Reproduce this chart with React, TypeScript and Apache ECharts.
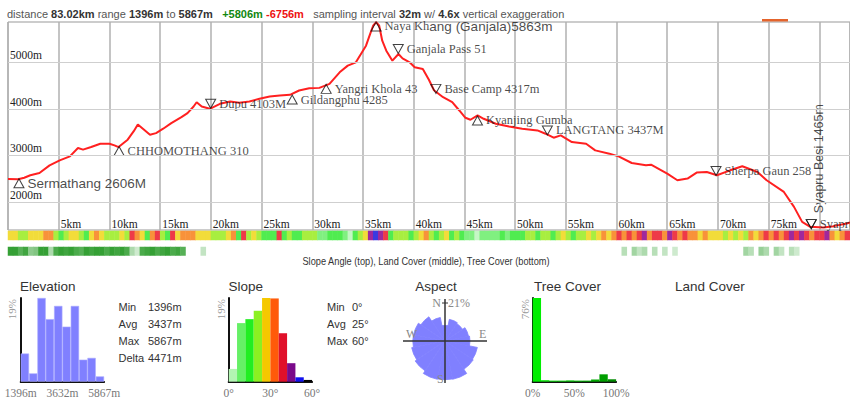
import React, { useEffect, useRef } from 'react';
import * as echarts from 'echarts';

// ---------- profile data ----------
const distanceKm = [0, 1.0, 1.6, 2.2, 3.1, 4.1, 5.1, 6.1, 6.9, 7.4, 8.2, 9.1, 10.0, 10.5, 10.9, 11.8, 12.4, 12.8, 13.3, 14.0, 14.6, 15.3, 16.1, 17.1, 17.7, 18.3, 18.6, 19.1, 19.9, 20.9, 21.9, 22.8, 23.8, 24.8, 25.8, 26.8, 27.8, 28.7, 29.7, 30.7, 31.7, 32.7, 33.5, 34.3, 34.8, 35.3, 35.7, 36.0, 36.3, 36.6, 36.9, 37.3, 37.9, 38.5, 38.9, 39.6, 40.1, 40.9, 41.5, 42.0, 42.9, 43.8, 44.5, 45.1, 45.6, 46.3, 46.9, 48.1, 49.4, 50.7, 52.2, 53.0, 53.8, 54.5, 55.6, 57.0, 57.9, 59.3, 60.2, 61.5, 62.9, 63.4, 65.0, 66.0, 67.0, 67.9, 68.9, 69.9, 71.2, 72.4, 73.9, 74.8, 76.5, 77.5, 78.3, 79.1, 80.4, 81.4, 82.7, 83.02];
const elevationM = [2490, 2487, 2520, 2572, 2621, 2786, 2893, 2979, 3157, 3123, 3179, 3251, 3251, 3215, 3179, 3337, 3520, 3665, 3573, 3444, 3478, 3573, 3693, 3821, 3907, 4050, 4143, 4051, 4001, 4108, 4158, 4130, 4158, 4216, 4265, 4286, 4301, 4394, 4443, 4451, 4537, 4786, 4929, 5000, 5180, 5358, 5608, 5786, 5863, 5786, 5465, 5251, 5036, 5180, 5086, 5000, 4893, 4858, 4625, 4400, 4250, 4143, 3965, 3808, 3766, 3858, 3787, 3680, 3622, 3573, 3536, 3466, 3380, 3429, 3286, 3251, 3108, 3037, 2979, 2836, 2786, 2801, 2608, 2465, 2501, 2630, 2643, 2572, 2679, 2765, 2643, 2465, 2214, 1893, 1571, 1464, 1451, 1479, 1537, 1560];
const elevMin = 1396;
const elevMax = 5867;
const distMax = 83.02;
const yGridValues = [2000, 3000, 4000, 5000];

// ---------- waypoints ----------
const waypointNames = ['Sermathang 2606M', 'CHHOMOTHANG 310', 'Dupu 4103M', 'Gildangphu 4285', 'Yangri Khola 43', 'Naya Khang (Ganjala)5863m', 'Ganjala Pass 51', 'Base Camp 4317m', 'Kyanjing Gumba', 'LANGTANG 3437M', 'Sherpa Gaun 258', 'Syapru Besi 1465m', 'Syapru Besi'];
const waypointKm = [1.08, 10.95, 19.98, 28.02, 31.37, 36.29, 38.48, 42.19, 46.29, 53.18, 69.81, 79.2, 79.2];
const waypointElev = [2400, 3093, 4108, 4201, 4430, 5771, 5287, 4430, 3751, 3536, 2664, 1522, 1522];
const waypointDir = ['up', 'up', 'down', 'up', 'up', 'up', 'down', 'down', 'up', 'down', 'down', 'down', 'down'];
const waypointFont = ['sans', 'serif', 'serif', 'serif', 'serif', 'mixed', 'serif', 'serif', 'serif', 'serif', 'serif', 'vertical', 'serif'];

// ---------- strips (0.5 km bins) ----------
const slopeStrip = [
  26, 28, 22, 18, 24, 26, 28, 32, 34, 20, 16, 18, 26, 27, 18, 16, 24, 30, 28, 22,
  18, 22, 26, 20, 38, 32, 26, 16, 34, 36, 20, 14, 38, 24, 30, 32, 32, 28, 26, 24,
  20, 22, 18, 24, 30, 16, 36, 20, 24, 18, 16, 14, 16, 38, 14, 18, 14, 16, 18, 20,
  18, 10, 6, 12, 14, 16, 8, 4, 14, 20, 24, 44, 52, 46, 40, 16, 20, 18, 22, 16,
  18, 26, 30, 20, 16, 20, 24, 14, 18, 12, 8, 6, 4, 8, 10, 6, 10, 14, 8, 12,
  16, 14, 18, 20, 14, 18, 22, 16, 20, 24, 18, 16, 22, 20, 26, 18, 24, 30, 28, 34,
  36, 32, 40, 34, 38, 44, 32, 36, 40, 34, 46, 38, 32, 36, 30, 34, 28, 32, 26, 24,
  26, 22, 28, 20, 24, 18, 30, 26, 32, 36, 30, 40, 34, 38, 42, 36, 44, 38, 32, 40,
  36, 42, 30, 26, 34, 38
];
const treeStripBin = [0, 1, 2, 3, 4, 5, 6, 7, 8, 9, 10, 11, 12, 13, 14, 15, 16, 17, 18, 19, 20, 21, 22, 23, 24, 25, 26, 27, 28, 29, 30, 31, 32, 33, 34, 38, 121, 123, 124, 125, 127, 129, 131, 145, 146, 148, 149, 151, 152, 154, 155];
const treeStripValue = [80, 80, 65, 75, 40, 45, 80, 80, 25, 70, 80, 75, 80, 70, 65, 80, 75, 80, 80, 70, 80, 75, 80, 70, 25, 10, 70, 75, 80, 70, 75, 80, 70, 75, 65, 15, 20, 30, 15, 25, 20, 15, 10, 30, 20, 35, 25, 30, 15, 20, 10];
const stripBins = 166;

// ---------- histograms ----------
const elevHistPct = [6.4, 1.9, 19, 14.2, 17.2, 12.5, 17.2, 5, 5.4, 1.2];
const elevHistLabels = ['1396m', '3632m', '5867m'];
const slopeHistPct = [2.9, 13.3, 14.2, 16.1, 19.1, 18.9, 11, 4.2, 1, 0.4];
const slopeColors = ['#b3f5b3', '#66f066', '#22ee22', '#8cf022', '#f5c800', '#ff5a0a', '#e0102a', '#7a0a8a', '#1010ee', '#000000'];
const stripColors = ['#c4f7c4', '#80f080', '#50ec50', '#a8ee40', '#f2dc3a', '#f8923a', '#ee3a48', '#a0289c', '#3a3ae0', '#222222'];
const slopeBinDeg = 6;
const slopeHistLabels = ['0°', '30°', '60°'];
const aspectDirs = ['N', 'NNE', 'NE', 'ENE', 'E', 'ESE', 'SE', 'SSE', 'S', 'SSW', 'SW', 'WSW', 'W', 'WNW', 'NW', 'NNW'];
const aspectPct = [8.0, 11.3, 10.8, 12.3, 12.8, 16.9, 17.4, 20.0, 19.8, 20.0, 18.4, 17.4, 16.5, 16.4, 14.9, 12.3];
const aspectMax = 21;
const treeHistPct = [76, 1.4, 1, 1, 1.2, 1, 1, 2, 6.7, 2.2];
const treeColors = ['#00ee00', '#10e410', '#10da10', '#10d010', '#08c608', '#08bc08', '#04b204', '#00a800', '#009e00', '#008a00'];
const treeHistLabels = ['0%', '50%', '100%'];
const elevStats = [['Min', '1396m'], ['Avg', '3437m'], ['Max', '5867m'], ['Delta', '4471m']];
const slopeStats = [['Min', '0°'], ['Avg', '25°'], ['Max', '60°']];

const SERIF = '"Liberation Serif", "Times New Roman", Times, serif';
const SANS = '"Liberation Sans", Arial, Helvetica, sans-serif';

function txt(x: number, y: number, text: string, extra: any = {}, el: any = {}) {
  return {
    type: 'text', x, y, silent: true, z: 20, ...el,
    style: {
      text, fill: '#333', font: `12px ${SANS}`,
      align: 'left', verticalAlign: 'middle', textAlign: 'left', textVerticalAlign: 'middle',
      ...extra,
    },
  };
}

function histGrid(left: number) {
  return { left, top: 298, width: 83.4, height: 83.7 };
}

export default function App() {
  const ref = useRef<HTMLDivElement>(null);
  useEffect(() => {
    if (!ref.current) return;
    const chart = echarts.init(ref.current, undefined, { renderer: 'svg' });

    const catIdx = (n: number) => Array.from({ length: n }, (_, i) => String(i));

    const histCatX = (gridIndex: number) => ({
      type: 'category', gridIndex, position: 'bottom', data: catIdx(10), boundaryGap: true,
      axisLine: { show: true, lineStyle: { color: '#111', width: 2 } },
      axisTick: { show: false }, axisLabel: { show: false }, splitLine: { show: false },
    });
    const histLabelX = (gridIndex: number, labels: string[]) => ({
      type: 'value', gridIndex, position: 'bottom', offset: 0, min: 0, max: 10, interval: 5,
      axisLine: { show: false }, axisTick: { show: false }, splitLine: { show: false },
      axisLabel: {
        show: true, margin: 5, color: '#777', fontFamily: SERIF, fontSize: 11.5,
        showMinLabel: true, showMaxLabel: true,
        formatter: (v: number) => labels[Math.round(v / 5)] ?? '',
      },
    });
    const histY = (gridIndex: number, max: number) => ({
      type: 'value', gridIndex, min: 0, max,
      axisLine: { show: true, lineStyle: { color: '#111', width: 2 } },
      axisTick: { show: false }, axisLabel: { show: false }, splitLine: { show: false },
    });

    const waypointData = waypointNames.map((name, i) => {
      const item: any = {
        name,
        value: [waypointKm[i], waypointElev[i]],
        symbolRotate: waypointDir[i] === 'down' ? 180 : 0,
      };
      if (waypointFont[i] === 'vertical') {
        item.label = {
          rotate: 90, position: 'top', align: 'left', verticalAlign: 'middle',
          distance: 6, offset: [0, 8],
        };
      }
      return item;
    });

    const hf = 10.5;
    const graphic: any[] = [];
    graphic.push(txt(7, 14, '', {
      text: '{n|distance }{b|83.02km}{n| range }{b|1396m}{n| to }{b|5867m}{n|   }{g|+5806m}{n| }{r|-6756m}{n|   sampling interval }{b|32m}{n| w/ }{b|4.6x}{n| vertical exaggeration}',
      rich: {
        n: { fill: '#555', color: '#555', fontFamily: SANS, fontSize: hf },
        b: { fill: '#333', color: '#333', fontFamily: SANS, fontSize: hf, fontWeight: 'bold' },
        g: { fill: '#118811', color: '#118811', fontFamily: SANS, fontSize: hf, fontWeight: 'bold' },
        r: { fill: '#ee1111', color: '#ee1111', fontFamily: SANS, fontSize: hf, fontWeight: 'bold' },
      },
    }, { scaleX: 1.05 }));
    graphic.push({ type: 'rect', silent: true, shape: { x: 762, y: 19, width: 26, height: 2.5 }, style: { fill: '#e4642c' } });
    graphic.push(txt(0, 0, 'Slope Angle (top), Land Cover (middle), Tree Cover (bottom)', {
      font: `11px ${SANS}`, fill: '#333', align: 'center', textAlign: 'center',
    }, { x: 426, y: 261, scaleX: 0.84 }));
    const titleFont = `13.5px ${SANS}`;
    graphic.push(txt(20, 286, 'Elevation', { font: titleFont }));
    graphic.push(txt(228.5, 286, 'Slope', { font: titleFont }));
    graphic.push(txt(436, 286, 'Aspect', { font: titleFont, align: 'center', textAlign: 'center' }));
    graphic.push(txt(534, 286, 'Tree Cover', { font: titleFont }));
    graphic.push(txt(675, 286, 'Land Cover', { font: titleFont }));
    const rotFont = `11px ${SERIF}`;
    graphic.push(txt(12, 299, '19%', { font: rotFont, fill: '#999', align: 'right', textAlign: 'right' }, { rotation: Math.PI / 2 }));
    graphic.push(txt(221, 299, '19%', { font: rotFont, fill: '#999', align: 'right', textAlign: 'right' }, { rotation: Math.PI / 2 }));
    graphic.push(txt(525, 299, '76%', { font: rotFont, fill: '#999', align: 'right', textAlign: 'right' }, { rotation: Math.PI / 2 }));
    const statFont = `11px ${SANS}`;
    elevStats.forEach((s, i) => {
      graphic.push(txt(118.5, 307 + 17 * i, s[0], { font: statFont }));
      graphic.push(txt(148, 307 + 17 * i, s[1], { font: statFont }));
    });
    slopeStats.forEach((s, i) => {
      graphic.push(txt(327, 307 + 17 * i, s[0], { font: statFont }));
      graphic.push(txt(352, 307 + 17 * i, s[1], { font: statFont }));
    });
    // aspect cross
    graphic.push({ type: 'line', silent: true, z: 20, shape: { x1: 403, y1: 341, x2: 487, y2: 341 }, style: { stroke: '#333', lineWidth: 1.5 } });
    graphic.push({ type: 'line', silent: true, z: 20, shape: { x1: 445, y1: 299, x2: 445, y2: 383 }, style: { stroke: '#333', lineWidth: 1.5 } });
    graphic.push({ type: 'line', silent: true, z: 20, shape: { x1: 442, y1: 303, x2: 448, y2: 303 }, style: { stroke: '#333', lineWidth: 1 } });
    const dirFont = `12px ${SERIF}`;
    graphic.push(txt(441, 303, 'N', { font: dirFont, fill: '#888', align: 'right', textAlign: 'right' }));
    graphic.push(txt(448, 303, `${aspectMax}%`, { font: dirFont, fill: '#888' }));
    graphic.push(txt(406, 334, 'W', { font: dirFont, fill: '#888' }));
    graphic.push(txt(479, 334, 'E', { font: dirFont, fill: '#888' }));
    graphic.push(txt(437, 379, 'S', { font: dirFont, fill: '#888' }));

    const option: any = {
      animation: false,
      backgroundColor: '#ffffff',
      grid: [
        { left: 8, right: -2, top: 22, height: 208, show: true, borderColor: '#999', borderWidth: 1, backgroundColor: 'transparent' },
        { left: 8, right: -2, top: 231, height: 9 },
        { left: 8, right: -2, top: 247, height: 8.5 },
        histGrid(20.7),
        histGrid(228.7),
        histGrid(532.7),
      ],
      xAxis: [
        {
          type: 'value', gridIndex: 0, min: 0, max: distMax, interval: 5,
          axisLine: { show: false }, axisTick: { show: false },
          splitLine: { show: true, lineStyle: { color: '#b0b0b0', width: 1.5 } },
          axisLabel: {
            inside: true, align: 'left', verticalAlign: 'bottom', margin: 0, padding: [0, 0, 0, 2],
            fontFamily: SERIF, fontSize: 11.5, color: '#222',
            showMinLabel: false, showMaxLabel: false,
            formatter: (v: number) => (v <= 0 || v >= 80 ? '' : `${v}km`),
          },
        },
        { type: 'category', gridIndex: 1, data: catIdx(stripBins), show: false },
        { type: 'category', gridIndex: 2, data: catIdx(stripBins), show: false },
        histCatX(3), histLabelX(3, elevHistLabels),
        histCatX(4), histLabelX(4, slopeHistLabels),
        histCatX(5), histLabelX(5, treeHistLabels),
      ],
      yAxis: [
        { type: 'value', gridIndex: 0, min: elevMin, max: elevMax, show: false, splitLine: { show: false } },
        { type: 'category', gridIndex: 1, data: ['s'], show: false },
        { type: 'category', gridIndex: 2, data: ['t'], show: false },
        histY(3, 19), histY(4, 19), histY(5, 76),
      ],
      polar: { center: [445, 341], radius: 41 },
      angleAxis: {
        type: 'category', data: aspectDirs, startAngle: 90 + 360 / 32,
        axisLine: { show: false }, axisTick: { show: false }, axisLabel: { show: false }, splitLine: { show: false },
      },
      radiusAxis: {
        min: 0, max: aspectMax,
        axisLine: { show: false }, axisTick: { show: false }, axisLabel: { show: false }, splitLine: { show: false },
      },
      visualMap: [
        {
          type: 'piecewise', show: false, seriesIndex: 3, dimension: 2,
          pieces: stripColors.map((c, i) => ({ gte: i * slopeBinDeg, lt: (i + 1) * slopeBinDeg, color: c })),
        },
        {
          type: 'continuous', show: false, seriesIndex: 4, dimension: 2, min: 0, max: 80,
          inRange: { color: ['#e4f4e4', '#35a035'] },
        },
      ],
      series: [
        {
          type: 'line', xAxisIndex: 0, yAxisIndex: 0, z: 3,
          data: distanceKm.map((d, i) => [d, elevationM[i]]),
          showSymbol: false, symbol: 'none',
          lineStyle: { color: '#ff2020', width: 2 },
        },
        {
          type: 'line', xAxisIndex: 0, yAxisIndex: 0, z: 1, data: [],
          markLine: {
            silent: true, symbol: ['none', 'none'], animation: false,
            lineStyle: { color: '#cfcfcf', width: 1.2, type: 'solid' },
            label: {
              position: 'insideStartTop', distance: [2, 1],
              fontFamily: SERIF, fontSize: 11.5, color: '#222',
              formatter: (p: any) => `${p.value}m`,
            },
            emphasis: { disabled: true },
            data: yGridValues.map((v) => ({ yAxis: v })),
          },
        },
        {
          type: 'scatter', xAxisIndex: 0, yAxisIndex: 0, z: 4,
          symbol: 'triangle', symbolSize: [10, 9],
          itemStyle: { color: 'rgba(255,255,255,0)', borderColor: '#111', borderWidth: 1 },
          label: {
            show: true, position: 'right', distance: 3,
            formatter: (p: any) => {
              const f = waypointFont[p.dataIndex];
              const n = p.name as string;
              if (f === 'serif') return `{serif|${n}}`;
              if (f === 'mixed') return `{serif|${n.slice(0, 7)}}{sans|${n.slice(7)}}`;
              if (f === 'vertical') return `{vert|${n}}`;
              return `{sans|${n}}`;
            },
            rich: {
              serif: { fontFamily: SERIF, fontSize: 12.5, color: '#1a1a1a' },
              sans: { fontFamily: SANS, fontSize: 13.5, color: '#1a1a1a' },
              vert: { fontFamily: SANS, fontSize: 12.5, color: '#1a1a1a' },
            },
          },
          data: waypointData,
        },
        {
          type: 'heatmap', xAxisIndex: 1, yAxisIndex: 1,
          data: slopeStrip.map((s, i) => [i, 0, s]),
        },
        {
          type: 'heatmap', xAxisIndex: 2, yAxisIndex: 2,
          data: treeStripBin.map((b, i) => [b, 0, treeStripValue[i]]),
        },
        {
          type: 'bar', xAxisIndex: 3, yAxisIndex: 3, barCategoryGap: '0%',
          itemStyle: { color: '#8080ff', borderColor: '#a9a9ff', borderWidth: 0.6 },
          data: elevHistPct,
        },
        {
          type: 'bar', xAxisIndex: 5, yAxisIndex: 4, barCategoryGap: '0%',
          data: slopeHistPct.map((v, i) => ({ value: v, itemStyle: { color: slopeColors[i] } })),
        },
        {
          type: 'bar', xAxisIndex: 7, yAxisIndex: 5, barCategoryGap: '0%',
          data: treeHistPct.map((v, i) => ({ value: v, itemStyle: { color: treeColors[i] } })),
        },
        {
          type: 'bar', coordinateSystem: 'polar', barCategoryGap: '0%', barGap: '0%', z: 2,
          itemStyle: { color: '#8080ff', borderColor: '#8080ff', borderWidth: 0.8 },
          data: aspectPct,
        },
      ],
      graphic,
    };
    chart.setOption(option);
    return () => chart.dispose();
  }, []);
  return (
    <div
      ref={ref}
      style={{ position: 'absolute', left: 0, top: 0, width: 850, height: 399, background: '#fff' }}
    />
  );
}
